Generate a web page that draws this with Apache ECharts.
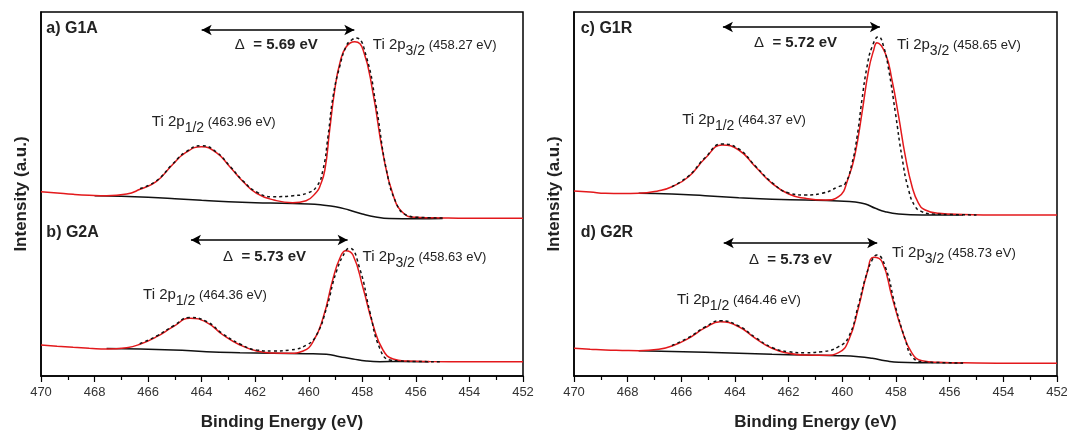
<!DOCTYPE html>
<html>
<head>
<meta charset="utf-8">
<script src="https://cdn.jsdelivr.net/npm/echarts/dist/echarts.min.js"></script>
<style>
html,body{margin:0;padding:0;background:#fff}
#main{width:1067px;height:432px}
</style>
</head>
<body>
<div id="main"></div>
<script>
// Ti 2p XPS spectra: [binding energy (eV), intensity (a.u.)]
// red = envelope fit, dashed = measured, black = background

var g1aFit = [[470,184.3],[469.4,183],[468.8,181.7],[468.2,180.8],[467.55,180.3],[466.8,182],[466.3,186.7],[465.7,194.3],[465.1,211],[464.6,223.3],[464.0,229.3],[463.45,223.3],[462.95,209.3],[462.45,194.3],[461.95,182.7],[461.3,176],[460.6,173.3],[460.1,175.3],[459.7,184.3],[459.59,189.3],[459.4,206],[459.22,246],[459.03,286],[458.84,312.7],[458.6,329.3],[458.28,334.3],[457.97,326],[457.6,282.7],[457.23,222.7],[456.85,181],[456.48,163.3],[456.0,158.7],[455.0,158],[454.0,157.7],[453.0,157.7],[452.0,157.7]];
var g1aRaw = [[466.3,187.5],[465.7,195],[465.1,211.5],[464.6,224],[464.0,230.3],[463.45,224],[462.95,210],[462.45,195],[461.95,184],[461.33,179.3],[460.58,180.3],[460.08,182.7],[459.71,189.3],[459.47,206],[459.28,240],[459.09,280],[458.84,310],[458.6,330],[458.4,336],[458.22,338],[457.85,319.3],[457.48,269.3],[457.1,206],[456.73,172.7],[456.36,161],[455.9,158.7],[455.0,158]];
var g1aBg = [[468.0,180.3],[467.0,179.7],[466.0,178.7],[465.0,177.3],[464.0,175.7],[463.0,174.3],[462.0,173.3],[461.0,172.7],[460.0,172],[459.5,171],[459.0,169.3],[458.5,166],[458.0,162],[457.5,159],[457.0,157.5],[456.0,157.3],[455.0,157.5]];

var g2aFit = [[470,31],[469.4,29.8],[468.8,28.7],[468.2,27.8],[467.55,27],[466.8,28.3],[466.31,31.7],[465.68,39.3],[465.06,49.3],[464.44,57.7],[463.82,53.7],[463.2,41],[462.57,31],[461.95,25],[461.33,23],[460.71,22.7],[460.21,25],[459.84,34.3],[459.47,57.7],[459.09,97.7],[458.84,117.7],[458.62,125.3],[458.35,121],[457.97,87.7],[457.6,51],[457.23,26],[456.85,17],[456.36,15],[455.5,14.5],[454,14.3],[453,14.3],[452,14.3]];
var g2aRaw = [[466.31,32.3],[465.68,40],[465.06,50],[464.44,58.5],[463.82,54.5],[463.2,42],[462.57,32],[461.95,26],[461.33,25],[460.71,26],[460.08,31],[459.71,41],[459.34,67.7],[458.97,104.3],[458.6,126],[458.47,127.7],[458.1,107.7],[457.72,64.3],[457.35,27.7],[456.98,16],[456.6,15],[456,14.5],[455,14.3]];
var g2aBg = [[467.55,27.5],[465.06,26],[463.82,24.3],[462.57,23.3],[461.33,22.7],[460.08,22.3],[459.34,21.7],[458.84,19.3],[458.35,17],[457.85,15],[457.35,14.3],[456.6,14.5],[455.5,14.3]];

var g1rFit = [[470,185],[469.4,184],[468.83,182.7],[468.2,182.5],[467.59,182.7],[466.84,185.3],[466.35,189.3],[465.73,199.3],[465.11,217.7],[464.48,231],[463.86,226],[463.24,209.3],[462.62,192.7],[462,182],[461.38,177.7],[460.63,176],[460.14,179.3],[459.76,199.3],[459.52,222.7],[459.27,262.7],[459.02,306],[458.83,326],[458.71,333.3],[458.4,322.7],[458.15,296],[457.9,259.3],[457.65,219.3],[457.4,189.3],[457.16,172.7],[456.91,166],[456.41,162.7],[455.5,161.5],[454,161],[453,161],[452,161]];
var g1rRaw = [[466.35,189.5],[465.73,200],[465.11,218.5],[464.48,232],[463.86,227],[463.24,210],[462.62,193.5],[462,183],[461.38,181],[460.76,182.7],[460.14,189.3],[459.89,192.7],[459.64,212.7],[459.45,239.3],[459.27,276],[459.08,309.3],[458.89,329.3],[458.65,339.3],[458.46,329.3],[458.27,306],[458.02,262.7],[457.78,219.3],[457.53,186],[457.28,169.3],[457.03,164.3],[456.66,162],[456,161.5],[455,161]];
var g1rBg = [[467.59,182.7],[466.35,182],[465.11,180.3],[463.86,178.3],[462.62,176.7],[461.38,176],[460.14,175],[459.52,174],[459.14,172],[458.77,167.7],[458.4,164.3],[457.9,162],[457.03,161],[456.41,161],[455.5,161]];

var g2rFit = [[470,27.7],[469.4,26.8],[468.83,26],[468.2,25.6],[467.59,25.3],[466.84,26.7],[466.35,30],[465.73,37.7],[465.11,48.3],[464.55,54.3],[463.86,49.3],[463.24,37.7],[462.62,27.7],[462,22.7],[461.38,21],[460.63,20.7],[460.14,23.3],[459.76,36],[459.39,69.3],[459.08,102.7],[458.83,118.7],[458.52,114.3],[458.15,79.3],[457.78,46],[457.4,22.7],[457.03,15.3],[456.41,13.7],[455,13],[454,12.8],[452,12.7]];
var g2rRaw = [[466.35,30.5],[465.73,38.5],[465.11,49],[464.55,55.3],[463.86,50],[463.24,38.5],[462.62,28.5],[462,24.3],[461.38,23.3],[460.76,24.3],[460.14,29.3],[459.76,39.3],[459.39,72],[459.14,98],[458.89,116],[458.71,121],[458.4,109.3],[458.02,69.3],[457.65,36],[457.4,19.3],[457.03,14.3],[456.5,13.5],[455.5,13]];
var g2rBg = [[467.59,25.3],[465.11,23.7],[463.86,22.7],[462.62,21.7],[461.38,21],[460.14,20.3],[459.39,19.3],[458.89,17.7],[458.4,15.3],[457.9,13.7],[457.03,13.3],[456,13.2],[455.5,13]];

// labels per spectrum (a, b, c, d)
var panelTags = ['a) G1A', 'b) G2A', 'c) G1R', 'd) G2R'];
var deltaVals = ['5.69', '5.73', '5.72', '5.73'];
var p32Vals = ['458.27', '458.63', '458.65', '458.73'];
var p12Vals = ['463.96', '464.36', '464.37', '464.46'];

var FONT = '"Liberation Sans", Arial, sans-serif';
var RED = '#e3191c';

var chart = echarts.init(document.getElementById('main'), null, {renderer: 'canvas'});

// annotation anchors in data coords [eV, intensity], one row per spectrum
var spec = [
	{grid: 0, tag: [469.8, 347], arrow: [464.0, 458.3, 346], delta: [462.76, 331], p32: [457.61, 331], p12: [465.86, 254]},
	{grid: 0, tag: [469.8, 143], arrow: [464.4, 458.55, 136], delta: [463.2, 119], p32: [457.99, 119], p12: [466.19, 81]},
	{grid: 1, tag: [469.75, 347], arrow: [464.45, 458.6, 349], delta: [463.29, 333], p32: [457.96, 331], p12: [465.97, 256]},
	{grid: 1, tag: [469.75, 143], arrow: [464.42, 458.7, 133], delta: [463.48, 116], p32: [458.15, 123], p12: [466.16, 76]}
];

function xAxisOf(g) {
	return {
		gridIndex: g,
		type: 'value',
		min: 452, max: 470, interval: 2,
		inverse: true,
		axisLine: {show: true, onZero: false, lineStyle: {color: '#000', width: 1.5}},
		axisTick: {show: true, length: 6, lineStyle: {color: '#000', width: 1.2}},
		minorTick: {show: true, splitNumber: 2, length: 4, lineStyle: {color: '#000', width: 1.2}},
		axisLabel: {fontSize: 13, color: '#333', margin: 10, fontFamily: FONT},
		splitLine: {show: false},
		name: 'Binding Energy (eV)',
		nameLocation: 'middle',
		nameGap: 38,
		nameTextStyle: {fontSize: 17, fontWeight: 'bold', color: '#222', fontFamily: FONT}
	};
}

function yAxisOf(g) {
	return {
		gridIndex: g,
		type: 'value',
		min: 0, max: 364,
		axisLine: {show: true, lineStyle: {color: '#000', width: 1.5}},
		axisTick: {show: false},
		axisLabel: {show: false},
		splitLine: {show: false},
		name: 'Intensity (a.u.)',
		nameLocation: 'middle',
		nameGap: 11,
		nameTextStyle: {fontSize: 17, fontWeight: 'bold', color: '#222', fontFamily: FONT}
	};
}

function line(data, g, color, dashed, z) {
	return {
		type: 'line',
		xAxisIndex: g, yAxisIndex: g,
		data: data,
		showSymbol: false,
		smooth: 0.5,
		silent: true,
		z: z,
		lineStyle: {color: color, width: 1.5, type: dashed ? [3, 3] : 'solid'}
	};
}

var series = [
	line(g1aBg, 0, '#111', false, 2), line(g1aFit, 0, RED, false, 3), line(g1aRaw, 0, '#111', true, 4),
	line(g2aBg, 0, '#111', false, 2), line(g2aFit, 0, RED, false, 3), line(g2aRaw, 0, '#111', true, 4),
	line(g1rBg, 1, '#111', false, 2), line(g1rFit, 1, RED, false, 3), line(g1rRaw, 1, '#111', true, 4),
	line(g2rBg, 1, '#111', false, 2), line(g2rFit, 1, RED, false, 3), line(g2rRaw, 1, '#111', true, 4)
];

// double arrows for the spin-orbit splitting
spec.forEach(function (s, i) {
	series[i * 3].markLine = {
		silent: true,
		symbol: ['arrow', 'arrow'],
		symbolSize: [8, 10],
		label: {show: false},
		lineStyle: {color: '#000', width: 1.5, type: 'solid'},
		data: [[{coord: [s.arrow[0], s.arrow[2]]}, {coord: [s.arrow[1], s.arrow[2]]}]]
	};
});

chart.setOption({
	animation: false,
	backgroundColor: '#fff',
	grid: [
		{left: 41, top: 12, width: 482, height: 364, show: true, borderColor: '#000', borderWidth: 1.5, outerBoundsMode: 'none', containLabel: false},
		{left: 574, top: 12, width: 483, height: 364, show: true, borderColor: '#000', borderWidth: 1.5, outerBoundsMode: 'none', containLabel: false}
	],
	xAxis: [xAxisOf(0), xAxisOf(1)],
	yAxis: [yAxisOf(0), yAxisOf(1)],
	series: series
});

// text annotations placed through the axes
var graphics = [];
function textAt(s, pt, text, rich) {
	var p = chart.convertToPixel({gridIndex: s.grid}, pt);
	graphics.push({
		type: 'text', x: p[0], y: p[1], z: 10,
		style: {text: text, rich: rich, verticalAlign: 'middle', align: 'left', fill: '#222', fontFamily: FONT}
	});
}
var richPeak = {
	t: {fontSize: 15, lineHeight: 26, verticalAlign: 'middle', fontFamily: FONT, fill: '#222'},
	s: {fontSize: 14, lineHeight: 26, verticalAlign: 'bottom', fontFamily: FONT, fill: '#222'},
	v: {fontSize: 13, lineHeight: 26, verticalAlign: 'middle', fontFamily: FONT, fill: '#222'}
};
var richDelta = {
	d: {fontSize: 15, fontFamily: FONT, fill: '#222'},
	e: {fontSize: 15, fontWeight: 'bold', fontFamily: FONT, fill: '#222'}
};
var richTag = {
	g: {fontSize: 16, fontWeight: 'bold', fontFamily: FONT, fill: '#222'}
};
spec.forEach(function (s, i) {
	textAt(s, s.tag, '{g|' + panelTags[i] + '}', richTag);
	textAt(s, s.delta, '{d|\u0394}{e|  = ' + deltaVals[i] + ' eV}', richDelta);
	textAt(s, s.p32, '{t|Ti 2p}{s|3/2}{v| (' + p32Vals[i] + ' eV)}', richPeak);
	textAt(s, s.p12, '{t|Ti 2p}{s|1/2}{v| (' + p12Vals[i] + ' eV)}', richPeak);
});
chart.setOption({graphic: graphics});
</script>
</body>
</html>
